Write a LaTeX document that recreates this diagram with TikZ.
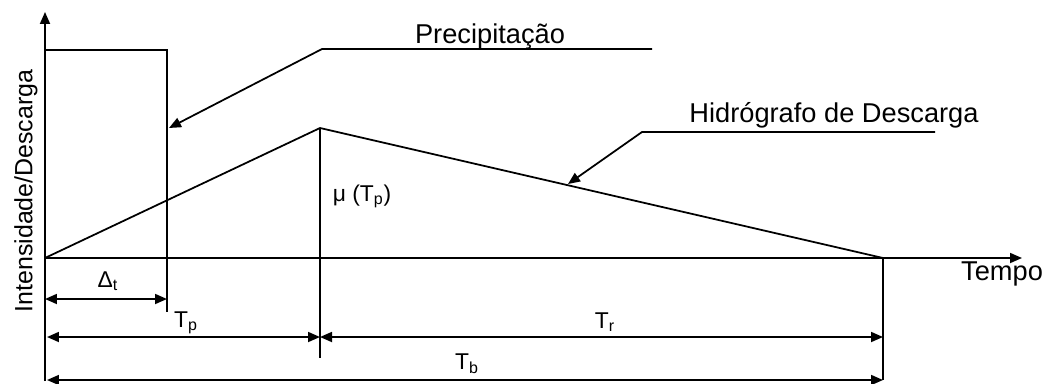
\documentclass[tikz,border=0pt]{standalone}
\usepackage{fontspec}
\setmainfont{Liberation Sans}
\usetikzlibrary{arrows.meta}
\tikzset{
  tip/.style={-{Triangle[length=0.24cm,width=0.2cm]}},
  dimarrow/.style={{Triangle[length=0.24cm,width=0.2cm]}-{Triangle[length=0.24cm,width=0.2cm]}},
  bigtxt/.style={font=\fontsize{15.5}{18}\selectfont},
  smalltxt/.style={font=\fontsize{13}{15}\selectfont},
}

\begin{document}
\begin{tikzpicture}[x=0.02cm,y=0.02cm,line width=1pt]
		\useasboundingbox (0,0) rectangle (1050,383);
		% Coordinates
		\coordinate (O) at (45,125);
		\coordinate (Ytop) at (45,371);
		\coordinate (Ybot) at (45,2);
		\coordinate (Xend) at (1022,125);
		\coordinate (R1) at (45,333);
		\coordinate (R2) at (167,333);
		\coordinate (R3) at (167,71);
		\coordinate (P) at (320,255);
		\coordinate (Pb) at (320,25);
		\coordinate (E) at (883,125);
		\coordinate (Eb) at (883,3);
		% Axes
		\draw[tip] (Ybot)--(Ytop);
		\draw[tip] (O)--(Xend);
		\node[bigtxt,anchor=base] (tempo) at (1002,103) {Tempo};
		\node[font=\fontsize{14.2}{16}\selectfont,rotate=90] (ylab) at (26,192) {Intensidade/Descarga};
		% Precipitation block
		\draw (R1)--(R2)--(R3);
		% Hydrograph
		\draw (O)--(P)--(E);
		\draw (P)--(Pb);
		\draw (E)--(Eb);
		\node[smalltxt] (mu) at (362,187) {μ (T\textsubscript{p})};
		% Leaders
		\coordinate (L1) at (322,334);
		\coordinate (L1e) at (652,334);
		\coordinate (L1t) at (169,255);
		\draw[tip] (L1e)--(L1)--(L1t);
		\node[bigtxt,anchor=base] (prec) at (490,340) {Precipitação};
		\coordinate (L2) at (642,251);
		\coordinate (L2e) at (935,251);
		\coordinate (L2t) at (568,199);
		\draw[tip] (L2e)--(L2)--(L2t);
		\node[bigtxt,anchor=base] (hidro) at (834,261) {Hidrógrafo de Descarga};
		% Dimensions
		\coordinate (Dt1) at (45,84);
		\coordinate (Dt2) at (167,84);
		\coordinate (Tp1) at (47,46);
		\coordinate (Tp2) at (320,46);
		\coordinate (Tr2) at (883,46);
		\coordinate (Tb1) at (47,3);
		\coordinate (Tb2) at (883,3);
		\draw[dimarrow] (Dt1)--(Dt2);
		\draw[dimarrow] (Tp1)--(Tp2);
		\draw[dimarrow] (Tp2)--(Tr2);
		\draw[dimarrow] (Tb1)--(Tb2);
		\node[smalltxt] (dt) at (108,102) {Δ\textsubscript{t}};
		\node[smalltxt] (tp) at (186,60) {T\textsubscript{p}};
		\node[smalltxt] (tr) at (605,61) {T\textsubscript{r}};
		\node[smalltxt] (tb) at (467,19) {T\textsubscript{b}};
	\end{tikzpicture}
\end{document}
